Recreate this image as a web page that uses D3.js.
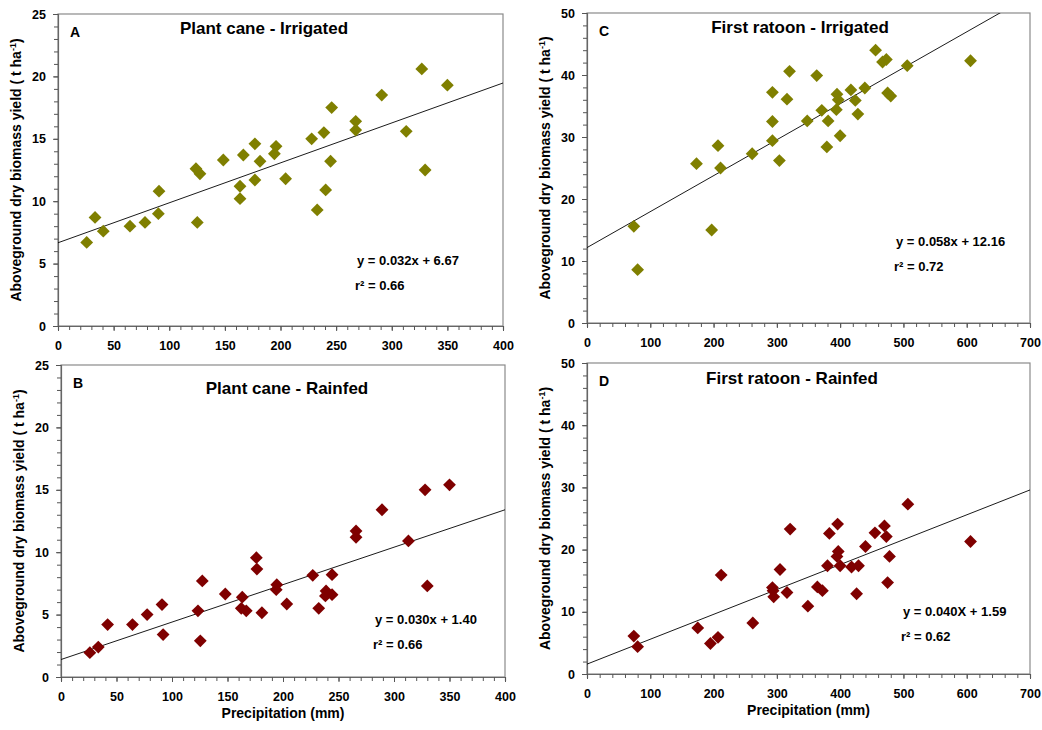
<!DOCTYPE html>
<html>
<head>
<meta charset="utf-8">
<script src="https://cdn.jsdelivr.net/npm/d3@7"></script>
<style>
  body { margin: 0; background: #fff; }
  svg { display: block; font-family: "Liberation Sans", Arial, sans-serif; font-weight: bold; }
</style>
</head>
<body>
<svg id="chart" width="1042" height="730"></svg>
<script>
// A - plant cane irrigated
const precipA = [25.8, 33.3, 40.7, 64.7, 78.2, 90.8, 90.2, 124, 127.6, 125.2, 148.6, 166.6, 163.6, 163.6, 177, 181.6, 177, 196, 194.5, 204.6, 228, 239, 246, 245, 240.6, 233, 267.6, 267.6, 291, 313, 327, 330, 350];
const yieldA = [6.7, 8.7, 7.6, 8.0, 8.3, 10.8, 9.0, 12.6, 12.2, 8.3, 13.3, 13.7, 11.2, 10.2, 14.6, 13.2, 11.7, 14.4, 13.8, 11.8, 15.0, 15.5, 17.5, 13.2, 10.9, 9.3, 16.4, 15.7, 18.5, 15.6, 20.6, 12.5, 19.3];
// B - plant cane rainfed
const precipB = [26, 33.6, 42, 64.4, 77.6, 91, 92, 123.4, 127.3, 125.5, 148, 163.3, 162.4, 166.9, 176, 176.5, 181, 194.4, 193.9, 203.4, 226.8, 232.2, 238.8, 238.2, 244.2, 244.2, 265.8, 265.8, 289.2, 313, 328, 330, 350];
const yieldB = [1.95, 2.4, 4.2, 4.2, 5.0, 5.8, 3.4, 5.3, 7.7, 2.9, 6.65, 6.4, 5.5, 5.3, 9.56, 8.65, 5.15, 7.4, 7.0, 5.85, 8.15, 5.5, 6.9, 6.5, 8.2, 6.6, 11.7, 11.2, 13.4, 10.9, 15.0, 7.3, 15.4];
// C - first ratoon irrigated
const precipC = [74, 80, 173, 197, 207, 211, 261, 293, 293, 293, 304, 320, 316, 348, 363, 371, 381, 379, 395, 397, 394, 400, 417, 424, 428, 439, 456, 467, 473, 475, 480, 506, 606];
const yieldC = [15.6, 8.6, 25.7, 15.0, 28.6, 25.0, 27.3, 37.2, 32.5, 29.4, 26.2, 40.6, 36.1, 32.6, 39.9, 34.3, 32.6, 28.4, 36.9, 36.0, 34.4, 30.2, 37.6, 35.9, 33.7, 37.9, 44.0, 42.1, 42.5, 37.1, 36.6, 41.5, 42.3];
// D - first ratoon rainfed
const precipD = [74, 80, 175, 195, 207, 212, 262, 293, 294, 295, 305, 316, 321, 349, 364, 372, 380, 383, 396, 397, 395, 400, 418, 429, 426, 440, 455, 470, 473, 478, 475, 507, 606];
const yieldD = [6.1, 4.4, 7.4, 4.9, 5.9, 15.9, 8.2, 13.9, 13.4, 12.4, 16.8, 13.1, 23.3, 10.9, 14.0, 13.4, 17.4, 22.6, 24.1, 19.7, 18.9, 17.4, 17.2, 17.4, 12.9, 20.5, 22.7, 23.8, 22.1, 18.9, 14.7, 27.3, 21.3];

const xTicksCane = [0, 50, 100, 150, 200, 250, 300, 350, 400];
const xTicksRatoon = [0, 100, 200, 300, 400, 500, 600, 700];
const yTicksCane = [0, 5, 10, 15, 20, 25];
const yTicksRatoon = [0, 10, 20, 30, 40, 50];

const panels = [
  { letter: "A", title: "Plant cane - Irrigated", x: precipA, y: yieldA, slope: 0.032, icpt: 6.67,
    eq: "y = 0.032x + 6.67", r2: "r\u00b2 = 0.66", xMax: 400, yMax: 25, xt: xTicksCane, yt: yTicksCane,
    xMinor: 10, yMinor: 1, color: "#7f7f00",
    box: [58, 14, 503, 326], titleX: 264, titleY: 34, eqX: 357, eqY: 265, showXTitle: false },
  { letter: "B", title: "Plant cane - Rainfed", x: precipB, y: yieldB, slope: 0.030, icpt: 1.40,
    eq: "y = 0.030x + 1.40", r2: "r\u00b2 = 0.66", xMax: 400, yMax: 25, xt: xTicksCane, yt: yTicksCane,
    xMinor: 10, yMinor: 1, color: "#7f0000",
    box: [61, 365, 505, 677], titleX: 287, titleY: 394, eqX: 375, eqY: 624, showXTitle: true },
  { letter: "C", title: "First ratoon - Irrigated", x: precipC, y: yieldC, slope: 0.058, icpt: 12.16,
    eq: "y = 0.058x + 12.16", r2: "r\u00b2 = 0.72", xMax: 700, yMax: 50, xt: xTicksRatoon, yt: yTicksRatoon,
    xMinor: 20, yMinor: 2, color: "#7f7f00",
    box: [587, 13, 1030, 323], titleX: 800, titleY: 33, eqX: 896, eqY: 246, showXTitle: false },
  { letter: "D", title: "First ratoon - Rainfed", x: precipD, y: yieldD, slope: 0.040, icpt: 1.59,
    eq: "y = 0.040X + 1.59", r2: "r\u00b2 = 0.62", xMax: 700, yMax: 50, xt: xTicksRatoon, yt: yTicksRatoon,
    xMinor: 20, yMinor: 2, color: "#7f0000",
    box: [587, 363, 1030, 674], titleX: 792, titleY: 384, eqX: 903, eqY: 616, showXTitle: true }
];

const svg = d3.select("#chart");
const axisColor = "#8a8a8a";

panels.forEach((p, i) => {
  const [x0, y0, x1, y1] = p.box;
  const x = d3.scaleLinear().domain([0, p.xMax]).range([x0, x1]);
  const y = d3.scaleLinear().domain([0, p.yMax]).range([y1, y0]);
  const g = svg.append("g");

  // frame
  g.append("rect").attr("x", x0).attr("y", y0).attr("width", x1 - x0).attr("height", y1 - y0)
    .attr("fill", "none").attr("stroke", axisColor).attr("stroke-width", 1.2);

  // minor ticks
  const xAxis = d3.axisBottom(x).tickValues(d3.range(0, p.xMax + 0.01, p.xMinor)).tickSize(4).tickFormat("");
  const yAxis = d3.axisLeft(y).tickValues(d3.range(0, p.yMax + 0.01, p.yMinor)).tickSize(4).tickFormat("");
  const gx = g.append("g").attr("transform", `translate(0,${y1})`).call(xAxis);
  const gy = g.append("g").attr("transform", `translate(${x0},0)`).call(yAxis);
  [gx, gy].forEach(a => {
    a.select(".domain").attr("stroke", "#666").attr("stroke-width", 1.2);
    a.selectAll(".tick line").attr("stroke", "#555");
  });

  // major ticks + labels
  const gxl = g.append("g").attr("transform", `translate(0,${y1})`)
    .call(d3.axisBottom(x).tickValues(p.xt).tickSize(5).tickPadding(10).tickFormat(d3.format("d")));
  const gyl = g.append("g").attr("transform", `translate(${x0},0)`)
    .call(d3.axisLeft(y).tickValues(p.yt).tickSize(5).tickPadding(7).tickFormat(d3.format("d")));
  [gxl, gyl].forEach(a => {
    a.select(".domain").remove();
    a.selectAll(".tick line").attr("stroke", "#555");
    a.selectAll(".tick text").attr("fill", "#000").attr("font-size", 12.5)
      .attr("font-family", "'Liberation Sans', Arial, sans-serif").attr("font-weight", "bold");
  });

  // regression line clipped to plot
  const clipId = "clip" + i;
  svg.append("clipPath").attr("id", clipId).append("rect")
    .attr("x", x0).attr("y", y0).attr("width", x1 - x0).attr("height", y1 - y0);
  g.append("line").attr("clip-path", `url(#${clipId})`)
    .attr("x1", x(0)).attr("y1", y(p.icpt))
    .attr("x2", x(p.xMax)).attr("y2", y(p.icpt + p.slope * p.xMax))
    .attr("stroke", "#000").attr("stroke-width", 0.9);

  // points
  const diamond = d3.symbol().type(d3.symbolSquare).size(82);
  g.selectAll(".pt").data(p.x.map((v, k) => [v, p.y[k]])).enter().append("path")
    .attr("class", "pt")
    .attr("d", diamond)
    .attr("transform", d => `translate(${x(d[0])},${y(d[1])}) rotate(45)`)
    .attr("fill", p.color);

  // texts
  g.append("text").attr("x", x0 + 12).attr("y", y0 + 23).attr("font-size", 14).text(p.letter);
  g.append("text").attr("x", p.titleX).attr("y", p.titleY).attr("text-anchor", "middle")
    .attr("font-size", 17).text(p.title);
  g.append("text").attr("x", p.eqX).attr("y", p.eqY).attr("font-size", 13).text(p.eq);
  g.append("text").attr("x", p.eqX - 2).attr("y", p.eqY + 25).attr("font-size", 13).text(p.r2);

  // y axis title
  const cy = (y0 + y1) / 2;
  const yt = g.append("text")
    .attr("transform", `translate(${x0 - 37},${cy}) rotate(-90)`)
    .attr("text-anchor", "middle").attr("font-size", 14);
  yt.append("tspan").text("Aboveground dry biomass yield ( t ha");
  yt.append("tspan").attr("baseline-shift", "super").attr("font-size", 9).text("-1");
  yt.append("tspan").text(")");

  if (p.showXTitle) {
    g.append("text").attr("x", (x0 + x1) / 2).attr("y", y1 + 41).attr("text-anchor", "middle")
      .attr("font-size", 14).text("Precipitation (mm)");
  }
});
</script>
</body>
</html>
